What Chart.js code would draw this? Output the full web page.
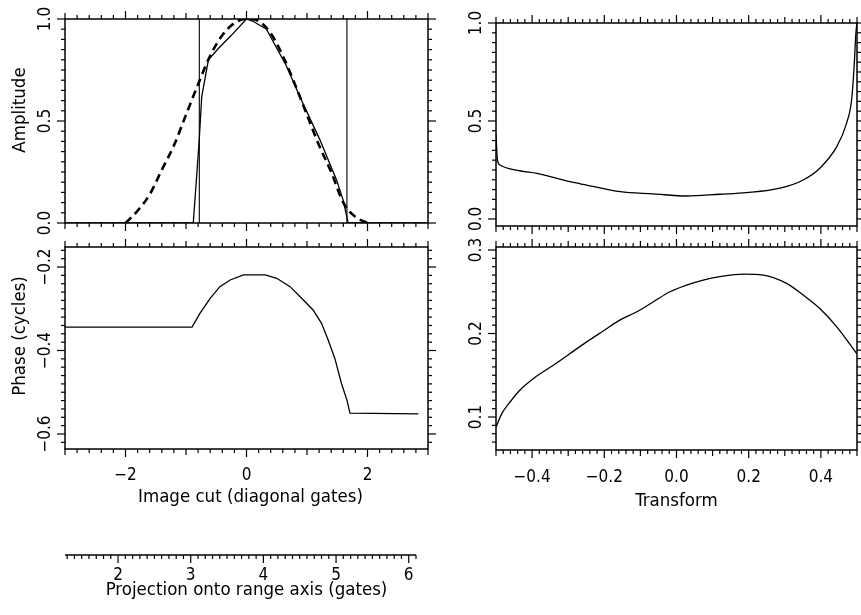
<!DOCTYPE html>
<html>
<head>
<meta charset="utf-8">
<script src="https://cdn.jsdelivr.net/npm/chart.js@4.4.1/dist/chart.umd.min.js"></script>
<style>
  body { margin: 0; background: #fff; }
  #wrap { position: relative; width: 861px; height: 615px; }
  #wrap canvas { position: absolute; left: 0; top: 0; }
</style>
</head>
<body>
<div id="wrap">
  <canvas id="amp" width="861" height="615"></canvas>
  <canvas id="phase" width="861" height="615"></canvas>
  <canvas id="tAmp" width="861" height="615"></canvas>
  <canvas id="tPhase" width="861" height="615"></canvas>
  <canvas id="range" width="861" height="615"></canvas>
</div>
<script>
// image cut: measured amplitude (solid) and fitted taper (dashed)
const cutX   = [-3, -0.88, -0.785, -0.74, -0.63, -0.45, -0.25, 0, 0.1, 0.33, 0.66, 0.88, 1.21, 1.49, 1.6, 1.68, 3];
const cutAmp = [0, 0, 0.39, 0.62, 0.8, 0.86, 0.92, 1.0, 0.99, 0.95, 0.77, 0.62, 0.41, 0.21, 0.11, 0, 0];
const taperX   = [-2, -1.8, -1.6, -1.4, -1.2, -1.0, -0.8, -0.6, -0.4, -0.2, 0, 0.2, 0.4, 0.6, 0.8, 1.0, 1.2, 1.4, 1.6, 1.8, 2.0];
const taperAmp = [0, 0.06, 0.14, 0.26, 0.38, 0.53, 0.68, 0.82, 0.92, 0.98, 1.0, 0.99, 0.93, 0.82, 0.68, 0.53, 0.38, 0.25, 0.1, 0.03, 0];
const windowEdges = [-0.78, 1.66];

// image cut: phase
const phaseX = [-3, -0.9, -0.77, -0.6, -0.44, -0.27, -0.05, 0.31, 0.5, 0.72, 0.94, 1.1, 1.24, 1.35, 1.46, 1.57, 1.66, 1.71, 2.84];
const phaseY = [-0.344, -0.344, -0.311, -0.275, -0.247, -0.231, -0.219, -0.219, -0.227, -0.247, -0.279, -0.303, -0.335, -0.375, -0.419, -0.479, -0.519, -0.55, -0.552];

// transform: amplitude
const tAmpX = [-0.5, -0.496, -0.489, -0.434, -0.387, -0.295, -0.249, -0.156, -0.064, 0.028, 0.12, 0.194, 0.287, 0.351, 0.397, 0.444, 0.471, 0.485, 0.492, 0.497, 0.5];
const tAmpY = [0.43, 0.3, 0.275, 0.246, 0.233, 0.19, 0.173, 0.139, 0.128, 0.117, 0.126, 0.134, 0.157, 0.199, 0.259, 0.369, 0.488, 0.607, 0.777, 0.95, 1.0];

// transform: phase
const tPhaseX = [-0.5, -0.484, -0.461, -0.434, -0.387, -0.341, -0.295, -0.249, -0.203, -0.157, -0.11, -0.064, -0.018, 0.028, 0.074, 0.12, 0.185, 0.24, 0.305, 0.351, 0.397, 0.444, 0.499];
const tPhaseY = [0.088, 0.104, 0.118, 0.132, 0.149, 0.162, 0.176, 0.19, 0.203, 0.216, 0.226, 0.238, 0.25, 0.258, 0.264, 0.268, 0.271, 0.27, 0.26, 0.246, 0.23, 0.208, 0.176];

// labelled ticks
const cutTicks = [-2, 0, 2];
const ampTicks = [0, 0.5, 1];
const phaseTicks = [-0.6, -0.4, -0.2];
const transTicks = [-0.4, -0.2, 0, 0.2, 0.4];
const tAmpTicks = [0, 0.5, 1];
const tPhaseTicks = [0.1, 0.2, 0.3];
const rangeTicks = [2, 3, 4, 5, 6];

const FONT = '"DejaVu Sans Condensed", "DejaVu Sans", sans-serif';
const W = 861, H = 615;

const pts = (xs, ys) => xs.map((x, i) => ({ x, y: ys[i] }));
const fmt = (v, d) => v.toFixed(d).replace('-', '\u2212');
const near = (a, b) => Math.abs(a - b) < 1e-6;

function steps(min, max, step) {
  const out = [];
  for (let k = Math.ceil(min / step - 1e-6); k * step <= max + 1e-9; k++) out.push(k * step);
  return out;
}

// frame, outward ticks, rotated y labels and titles
const axisFrame = {
  id: 'axisFrame',
  afterDraw(chart, args, o) {
    const { ctx, chartArea: a, scales } = chart;
    const line = (x0, y0, x1, y1) => { ctx.beginPath(); ctx.moveTo(x0, y0); ctx.lineTo(x1, y1); ctx.stroke(); };
    ctx.save();
    ctx.strokeStyle = '#000';
    ctx.fillStyle = '#000';
    ctx.lineWidth = 1.5;
    if (o.frame) ctx.strokeRect(a.left, a.top, a.right - a.left, a.bottom - a.top);
    else line(a.left, a.bottom, a.right, a.bottom);
    ctx.lineWidth = 1.2;

    const tickLen = (ax, v) => ax.major.some(m => near(m, v)) ? 8 : (ax.mid && near(v / ax.mid, Math.round(v / ax.mid)) ? 6 : 4);

    if (o.x) {
      const s = scales.x, ax = o.x;
      steps(s.min, s.max, ax.minor).forEach(v => {
        const p = s.getPixelForValue(v), l = tickLen(ax, v);
        if (ax.sides.includes('bottom')) line(p, a.bottom, p, a.bottom + l);
        if (ax.sides.includes('top')) line(p, a.top, p, a.top - l);
      });
      if (ax.labelGap) {
        ctx.font = '17px ' + FONT;
        ctx.textAlign = 'center';
        ctx.textBaseline = 'alphabetic';
        ax.major.forEach(v => ctx.fillText(fmt(v, ax.digits), s.getPixelForValue(v), a.bottom + ax.labelGap));
      }
      if (ax.title) {
        ctx.font = '18.5px ' + FONT;
        ctx.textAlign = 'center';
        ctx.fillText(ax.title, (a.left + a.right) / 2 + (ax.titleDx || 0), a.bottom + ax.titleGap);
      }
    }

    if (o.y) {
      const s = scales.y, ax = o.y;
      steps(s.min, s.max, ax.minor).forEach(v => {
        const p = s.getPixelForValue(v), l = tickLen(ax, v);
        line(a.left, p, a.left - l, p);
        line(a.right, p, a.right + l, p);
      });
      ctx.font = '17px ' + FONT;
      ctx.textAlign = 'center';
      ctx.textBaseline = 'alphabetic';
      ax.major.forEach(v => {
        ctx.save();
        ctx.translate(a.left - 15, s.getPixelForValue(v));
        ctx.rotate(-Math.PI / 2);
        ctx.fillText(fmt(v, 1), 0, 0);
        ctx.restore();
      });
      if (ax.title) {
        ctx.save();
        ctx.font = '18.5px ' + FONT;
        ctx.translate(25, (a.top + a.bottom) / 2 + ax.titleDy);
        ctx.rotate(-Math.PI / 2);
        ctx.fillText(ax.title, 0, 0);
        ctx.restore();
      }
    }
    ctx.restore();
  }
};

function panel(id, box, xr, yr, datasets, frame) {
  return new Chart(document.getElementById(id), {
    type: 'line',
    data: { datasets },
    options: {
      responsive: false,
      animation: false,
      events: [],
      layout: { padding: { left: box[0], top: box[1], right: W - box[2], bottom: H - box[3] } },
      scales: {
        x: { type: 'linear', display: false, min: xr[0], max: xr[1] },
        y: { type: 'linear', display: false, min: yr[0], max: yr[1] }
      },
      elements: {
        point: { radius: 0 },
        line: { borderColor: '#000', borderWidth: 1.3, tension: 0 }
      },
      plugins: { legend: { display: false }, tooltip: { enabled: false }, axisFrame: frame }
    },
    plugins: [axisFrame]
  });
}

const cutAxis = (extra) => Object.assign({ minor: 0.2, mid: 1, major: cutTicks, digits: 0 }, extra);
const transAxis = (extra) => Object.assign({ minor: 0.02, mid: 0.1, major: transTicks, digits: 1 }, extra);

panel('amp', [65, 19, 428, 223], [-3, 3], [0, 1], [
  { data: pts(cutX, cutAmp) },
  { data: pts(taperX, taperAmp), borderWidth: 2.6, borderDash: [8, 5], cubicInterpolationMode: 'monotone' },
  ...windowEdges.map(x => ({ data: pts([x, x], [0, 1]), borderWidth: 1.1 }))
], {
  frame: true,
  x: cutAxis({ sides: ['top', 'bottom'] }),
  y: { minor: 0.05, major: ampTicks, title: 'Amplitude', titleDy: -11 }
});

panel('phase', [65, 247, 428, 449], [-3, 3], [-0.636, -0.152], [
  { data: pts(phaseX, phaseY) }
], {
  frame: true,
  x: cutAxis({ sides: ['top', 'bottom'], labelGap: 31, title: 'Image cut (diagonal gates)', titleGap: 53, titleDx: 4 }),
  y: { minor: 0.02, major: phaseTicks, title: 'Phase (cycles)', titleDy: -12 }
});

panel('tAmp', [496, 23, 857, 226], [-0.5, 0.5], [-0.036, 1.0], [
  { data: pts(tAmpX, tAmpY), cubicInterpolationMode: 'monotone' }
], {
  frame: true,
  x: transAxis({ sides: ['top', 'bottom'] }),
  y: { minor: 0.05, major: tAmpTicks }
});

panel('tPhase', [496, 247, 857, 450], [-0.5, 0.5], [0.0605, 0.3036], [
  { data: pts(tPhaseX, tPhaseY), cubicInterpolationMode: 'monotone' }
], {
  frame: true,
  x: transAxis({ sides: ['top', 'bottom'], labelGap: 32, title: 'Transform', titleGap: 56 }),
  y: { minor: 0.01, major: tPhaseTicks }
});

// secondary scale: projection of the cut onto the range axis
panel('range', [65, 548, 416, 555], [1.27, 6.1], [0, 1], [], {
  frame: false,
  x: { sides: ['bottom'], minor: 0.1, major: rangeTicks, digits: 0, labelGap: 25,
       title: 'Projection onto range axis (gates)', titleGap: 40, titleDx: 6 }
});
</script>
</body>
</html>
